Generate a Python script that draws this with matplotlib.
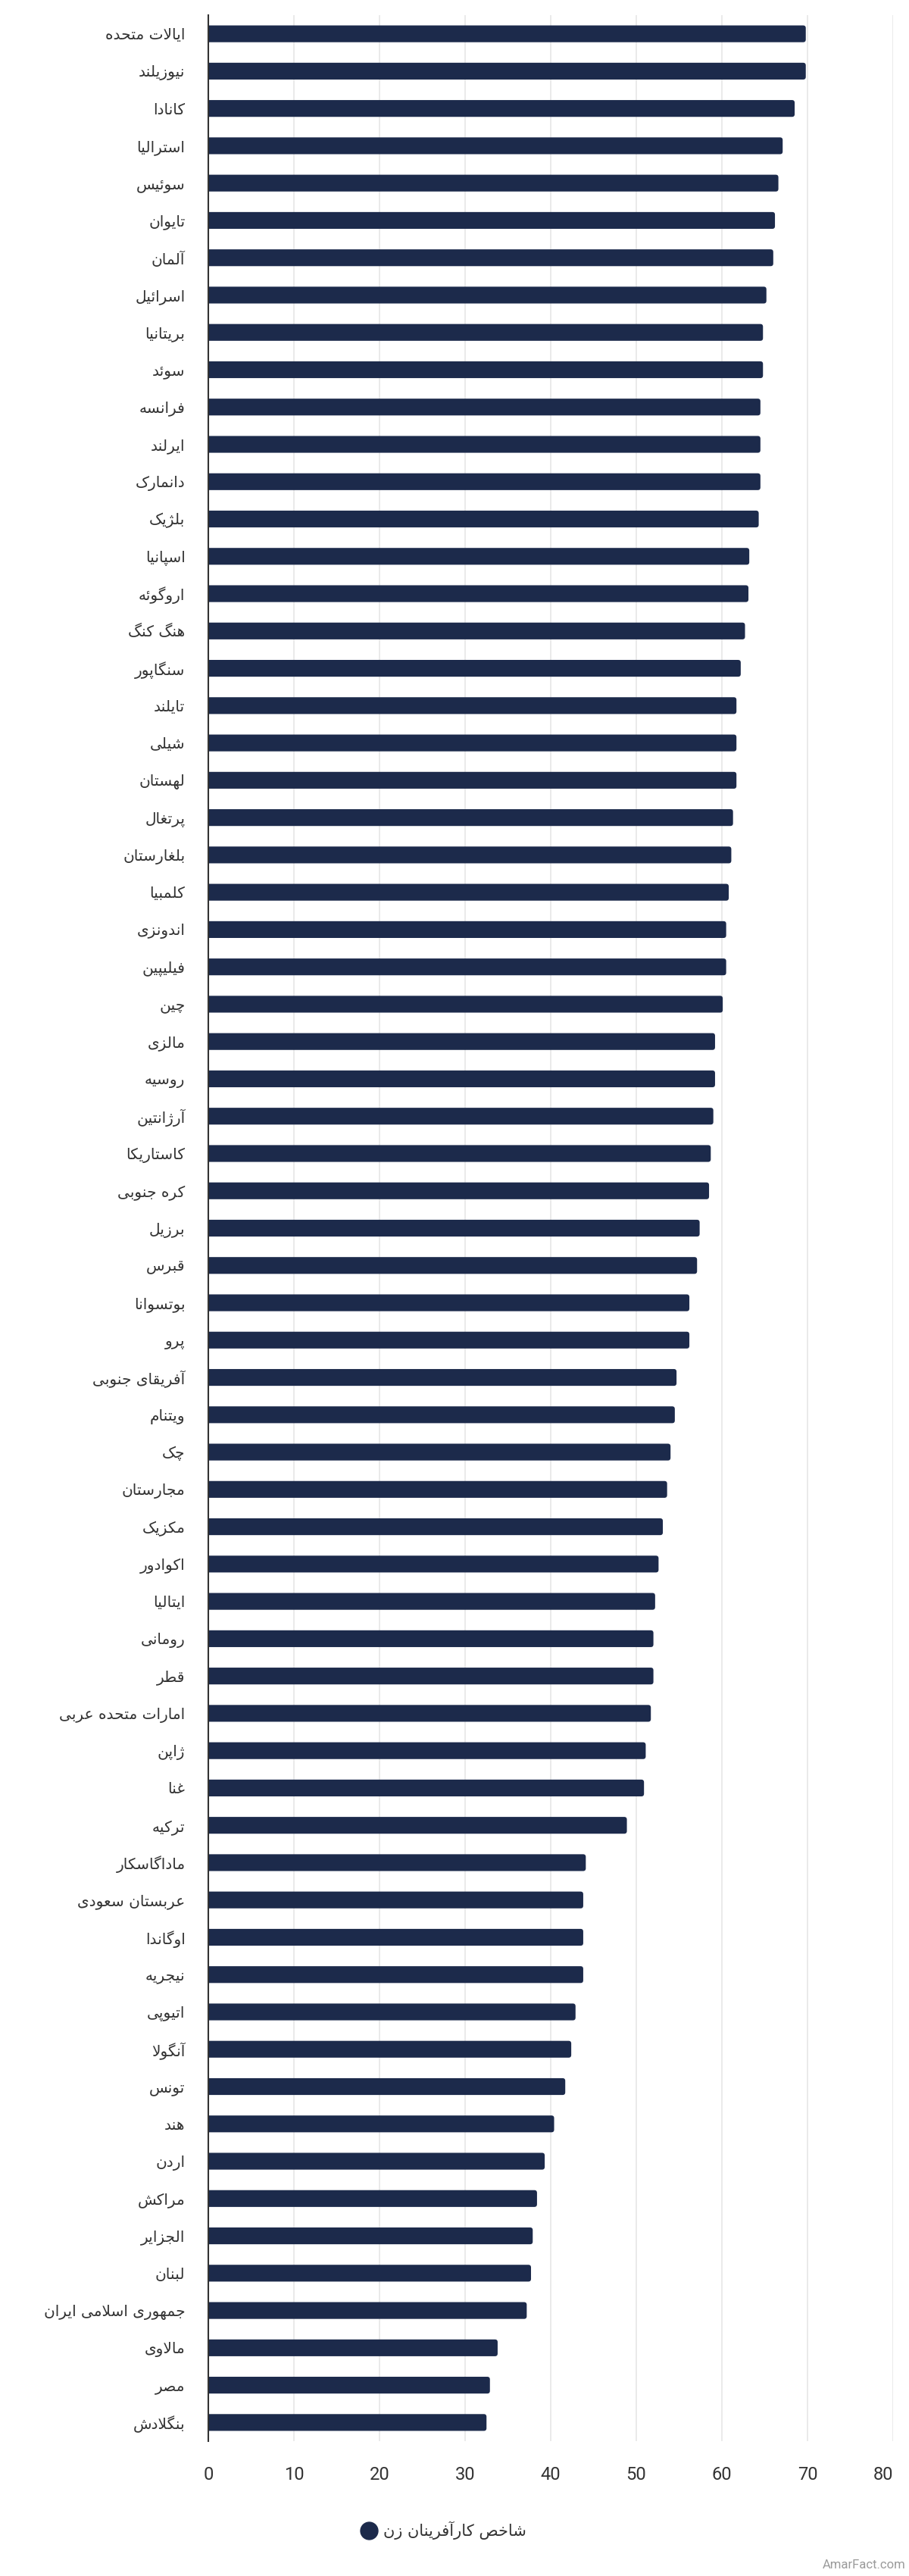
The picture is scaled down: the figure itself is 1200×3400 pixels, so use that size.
import numpy as np
import matplotlib
matplotlib.use("Agg")
import matplotlib.pyplot as plt
from matplotlib.patches import FancyBboxPatch
from matplotlib.lines import Line2D

plt.rcParams['font.family'] = ['Roboto', 'DejaVu Sans']

countries = [
    "ایالات متحده", "نیوزیلند", "کانادا", "استرالیا", "سوئیس", "تایوان", "آلمان",
    "اسرائیل", "بریتانیا", "سوئد", "فرانسه", "ایرلند", "دانمارک", "بلژیک",
    "اسپانیا", "اروگوئه", "هنگ کنگ", "سنگاپور", "تایلند", "شیلی", "لهستان",
    "پرتغال", "بلغارستان", "کلمبیا", "اندونزی", "فیلیپین", "چین", "مالزی",
    "روسیه", "آرژانتین", "کاستاریکا", "کره جنوبی", "برزیل", "قبرس", "بوتسوانا",
    "پرو", "آفریقای جنوبی", "ویتنام", "چک", "مجارستان", "مکزیک", "اکوادور",
    "ایتالیا", "رومانی", "قطر", "امارات متحده عربی", "ژاپن", "غنا", "ترکیه",
    "ماداگاسکار", "عربستان سعودی", "اوگاندا", "نیجریه", "اتیوپی", "آنگولا",
    "تونس", "هند", "اردن", "مراکش", "الجزایر", "لبنان", "جمهوری اسلامی ایران",
    "مالاوی", "مصر", "بنگلادش",
]
values = [
    69.8, 69.8, 68.5, 67.1, 66.6, 66.2, 66.0, 65.2, 64.8, 64.8, 64.5, 64.5, 64.5,
    64.3, 63.2, 63.1, 62.7, 62.2, 61.7, 61.7, 61.7, 61.3, 61.1, 60.8, 60.5, 60.5,
    60.1, 59.2, 59.2, 59.0, 58.7, 58.5, 57.4, 57.1, 56.2, 56.2, 54.7, 54.5, 54.0,
    53.6, 53.1, 52.6, 52.2, 52.0, 52.0, 51.7, 51.1, 50.9, 48.9, 44.1, 43.8, 43.8,
    43.8, 42.9, 42.4, 41.7, 40.4, 39.3, 38.4, 37.9, 37.7, 37.2, 33.8, 32.9, 32.5,
]
x_ticks = [0, 10, 20, 30, 40, 50, 60, 70, 80]
series_name = "شاخص کارآفرینان زن"
watermark = "AmarFact.com"

# ---- minimal Persian shaping (presentation forms + visual order) ----
_F = {
    'ا': (0xFE8D, 0xFE8E, None, None), 'آ': (0xFE81, 0xFE82, None, None),
    'ئ': (0xFE89, 0xFE8A, 0xFE8B, 0xFE8C), 'ب': (0xFE8F, 0xFE90, 0xFE91, 0xFE92),
    'پ': (0xFB56, 0xFB57, 0xFB58, 0xFB59), 'ت': (0xFE95, 0xFE96, 0xFE97, 0xFE98),
    'ث': (0xFE99, 0xFE9A, 0xFE9B, 0xFE9C), 'ج': (0xFE9D, 0xFE9E, 0xFE9F, 0xFEA0),
    'چ': (0xFB7A, 0xFB7B, 0xFB7C, 0xFB7D), 'ح': (0xFEA1, 0xFEA2, 0xFEA3, 0xFEA4),
    'خ': (0xFEA5, 0xFEA6, 0xFEA7, 0xFEA8), 'د': (0xFEA9, 0xFEAA, None, None),
    'ذ': (0xFEAB, 0xFEAC, None, None), 'ر': (0xFEAD, 0xFEAE, None, None),
    'ز': (0xFEAF, 0xFEB0, None, None), 'ژ': (0xFB8A, 0xFB8B, None, None),
    'س': (0xFEB1, 0xFEB2, 0xFEB3, 0xFEB4), 'ش': (0xFEB5, 0xFEB6, 0xFEB7, 0xFEB8),
    'ص': (0xFEB9, 0xFEBA, 0xFEBB, 0xFEBC), 'ض': (0xFEBD, 0xFEBE, 0xFEBF, 0xFEC0),
    'ط': (0xFEC1, 0xFEC2, 0xFEC3, 0xFEC4), 'ظ': (0xFEC5, 0xFEC6, 0xFEC7, 0xFEC8),
    'ع': (0xFEC9, 0xFECA, 0xFECB, 0xFECC), 'غ': (0xFECD, 0xFECE, 0xFECF, 0xFED0),
    'ف': (0xFED1, 0xFED2, 0xFED3, 0xFED4), 'ق': (0xFED5, 0xFED6, 0xFED7, 0xFED8),
    'ک': (0xFB8E, 0xFB8F, 0xFB90, 0xFB91), 'گ': (0xFB92, 0xFB93, 0xFB94, 0xFB95),
    'ل': (0xFEDD, 0xFEDE, 0xFEDF, 0xFEE0), 'م': (0xFEE1, 0xFEE2, 0xFEE3, 0xFEE4),
    'ن': (0xFEE5, 0xFEE6, 0xFEE7, 0xFEE8), 'و': (0xFEED, 0xFEEE, None, None),
    'ه': (0xFEE9, 0xFEEA, 0xFEEB, 0xFEEC), 'ی': (0xFBFC, 0xFBFD, 0xFBFE, 0xFBFF),
}
_LAMALEF = {'ا': (0xFEFB, 0xFEFC), 'آ': (0xFEF5, 0xFEF6)}


def _dual(c):
    return c in _F and _F[c][2] is not None


def shape(s):
    out = []
    n = len(s)
    i = 0
    while i < n:
        c = s[i]
        if c not in _F:
            out.append(c)
            i += 1
            continue
        cp = i > 0 and _dual(s[i - 1])
        if c == 'ل' and i + 1 < n and s[i + 1] in _LAMALEF:
            iso, fin = _LAMALEF[s[i + 1]]
            out.append(chr(fin if cp else iso))
            i += 2
            continue
        cn = _dual(c) and i + 1 < n and s[i + 1] in _F
        iso, fin, ini, med = _F[c]
        if cp and cn:
            code = med
        elif cp:
            code = fin
        elif cn:
            code = ini
        else:
            code = iso
        out.append(chr(code))
        i += 1
    return ''.join(reversed(out))


navy = '#1c2a4b'
text_col = '#333333'

fig = plt.figure(figsize=(12, 34), dpi=100)
ax = fig.add_axes([275 / 1200, 1 - 3222 / 3400, (1179 - 275) / 1200, (3222 - 20) / 3400])

ypos = np.arange(len(countries))
bars = ax.barh(ypos, values, height=0.45, color=navy, zorder=2)
ax.set_xlim(0, 80)
ax.set_ylim(len(countries) - 0.5, -0.5)

# rounded bar ends
fig.canvas.draw()
bb = ax.get_window_extent()
px_x = 80 / bb.width
px_y = len(countries) / bb.height
r_px = 3.5
for rect in bars:
    x0, y0, w, h = rect.get_x(), rect.get_y(), rect.get_width(), rect.get_height()
    rect.set_visible(False)
    p = FancyBboxPatch((x0 - 1.0, y0), w + 1.0, h,
                       boxstyle=f"round,pad=0,rounding_size={r_px * px_x}",
                       mutation_aspect=px_y / px_x,
                       fc=navy, ec='none', zorder=2, clip_on=True)
    ax.add_patch(p)

ax.set_yticks(ypos)
ax.set_yticklabels([shape(c) for c in countries], fontfamily='DejaVu Sans',
                   fontsize=14.5, color=text_col)
ax.set_xticks(x_ticks)
xlabels = ax.set_xticklabels([str(t) for t in x_ticks], fontfamily='Roboto',
                             fontsize=17, color=text_col)
xlabels[-1].set_horizontalalignment('right')
ax.tick_params(axis='y', length=0, pad=22)
ax.tick_params(axis='x', length=0, pad=24)

ax.set_axisbelow(True)
ax.xaxis.grid(True, color='#e6e6e6', linewidth=1.2, zorder=0)
for s in ('top', 'right', 'bottom'):
    ax.spines[s].set_visible(False)
ax.spines['left'].set_color('#333333')
ax.spines['left'].set_linewidth(1.5)
ax.spines['left'].set_zorder(3)

handle = Line2D([], [], marker='o', linestyle='', color=navy, markersize=16.5)
fig.legend(handles=[handle], labels=[shape(series_name)], loc='center',
           bbox_to_anchor=(586 / 1200, 1 - 3340 / 3400), frameon=False,
           prop={'family': 'DejaVu Sans', 'size': 15}, labelcolor=text_col,
           handletextpad=0.4, handlelength=1.0)

fig.text(1196 / 1200, 1 - 3385 / 3400, watermark, ha='right', va='center',
         fontsize=12, color='#9a9a9a', fontfamily='Roboto')

fig.savefig('out.png', dpi=100)
